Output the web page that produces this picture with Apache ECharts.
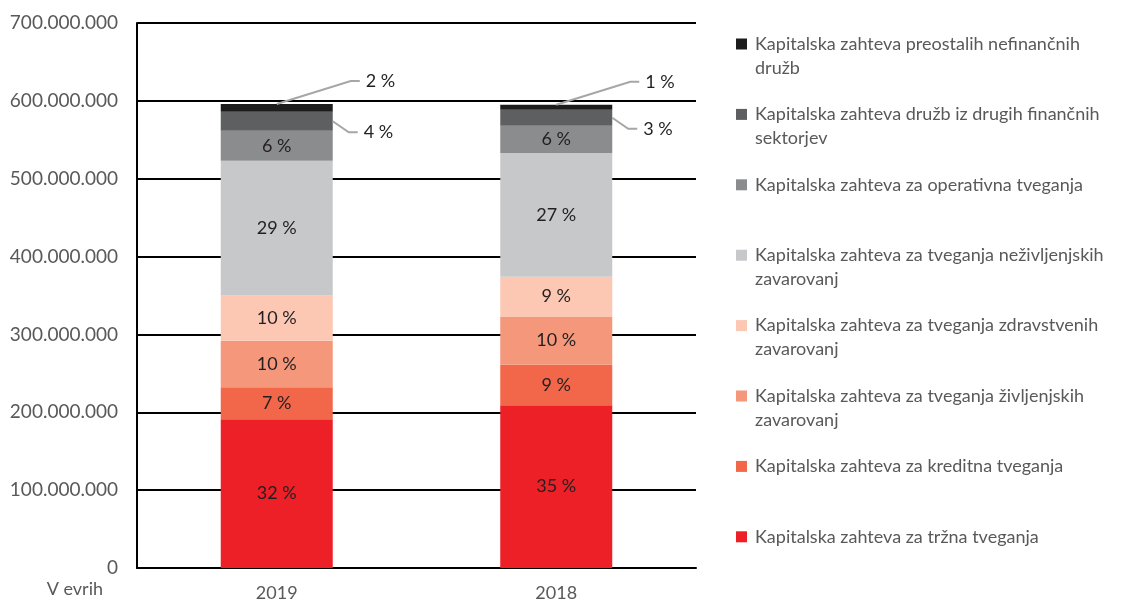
<!DOCTYPE html>
<html>
<head>
<meta charset="utf-8">
<title>Kapitalske zahteve</title>
<script src="https://cdn.jsdelivr.net/npm/echarts@6/dist/echarts.min.js"></script>
<style>
  html, body { margin: 0; padding: 0; background: #fff; }
  #chart { width: 1141px; height: 602px; }
</style>
</head>
<body>
<div id="chart"></div>
<script>
// leta (kategorije)
var years = ['2019', '2018'];

// kapitalske zahteve v mio EUR, odčitano z grafa (od spodaj navzgor)
var trzna = [191, 209];
var kreditna = [41, 52];
var zivljenjska = [60, 62];
var zdravstvena = [58, 51];
var nezivljenjska = [173, 159];
var operativna = [38.5, 35];
var drugiSektorji = [24.5, 20.5];
var preostale = [10, 6.5];

// oznake na y osi (v mio EUR)
var yTicks = [0, 100, 200, 300, 400, 500, 600, 700];

var names = [
  'Kapitalska zahteva za tržna tveganja',
  'Kapitalska zahteva za kreditna tveganja',
  'Kapitalska zahteva za tveganja življenjskih\nzavarovanj',
  'Kapitalska zahteva za tveganja zdravstvenih\nzavarovanj',
  'Kapitalska zahteva za tveganja neživljenjskih\nzavarovanj',
  'Kapitalska zahteva za operativna tveganja',
  'Kapitalska zahteva družb iz drugih finančnih\nsektorjev',
  'Kapitalska zahteva preostalih nefinančnih\ndružb'
];
var values = [trzna, kreditna, zivljenjska, zdravstvena, nezivljenjska, operativna, drugiSektorji, preostale];
var colors = ['#ed2027', '#f26649', '#f5977a', '#fcc7b3', '#c7c8ca', '#8b8c8e', '#5e5f61', '#1c1c1c'];

var totals = years.map(function (y, i) {
  return values.reduce(function (s, arr) { return s + arr[i]; }, 0);
});

var FONT = 'Lato';
var GREY = '#595959';
var BAR_W = 112;

function share(v, i) {
  return Math.round(v / totals[i] * 100) + ' %';
}

function fmtAxis(v) {
  return String(v * 1000000).replace(/\B(?=(\d{3})+(?!\d))/g, '.');
}

var series = values.map(function (arr, k) {
  return {
    name: names[k],
    type: 'bar',
    stack: 'skupaj',
    barWidth: BAR_W,
    data: arr,
    itemStyle: { color: colors[k] },
    label: {
      show: k < 6,
      position: 'inside',
      color: '#231f20',
      fontFamily: FONT,
      fontSize: 18,
      formatter: function (p) { return share(p.value, p.dataIndex); }
    }
  };
});

// opisi za najmanjša dva segmenta (z vodilno črto)
var callouts = [];
years.forEach(function (y, i) {
  var below = totals[i] - preostale[i];
  callouts.push([i, below, totals[i], 0]);
  callouts.push([i, below - drugiSektorji[i], below, 1]);
});

series.push({
  type: 'custom',
  silent: true,
  z: 5,
  data: callouts,
  encode: { x: 0, y: 2 },
  renderItem: function (params, api) {
    var cat = api.value(0), lo = api.value(1), hi = api.value(2), kind = api.value(3);
    var start, elbow;
    if (kind === 0) {
      start = api.coord([cat, hi]);
      elbow = [start[0] + 74, start[1] - 23];
    } else {
      var p = api.coord([cat, (lo + hi) / 2]);
      start = [p[0] + BAR_W / 2, p[1]];
      elbow = [start[0] + 16, start[1] + 11];
    }
    var end = [elbow[0] + 9, elbow[1]];
    return {
      type: 'group',
      children: [
        { type: 'polyline', shape: { points: [start, elbow, end] },
          style: { stroke: '#a6a6a6', lineWidth: 2, fill: null } },
        { type: 'text', x: end[0] + 6, y: end[1],
          style: { text: share(hi - lo, cat), fill: '#231f20', font: '18px ' + FONT, verticalAlign: 'middle' } }
      ]
    };
  }
});

var chart = echarts.init(document.getElementById('chart'));
chart.setOption({
  animation: false,
  backgroundColor: '#fff',
  grid: { left: 137, right: 445, top: 23, bottom: 25 },
  legend: {
    orient: 'vertical',
    left: 736,
    top: 8,
    padding: 0,
    itemGap: -1.6,
    itemWidth: 11,
    itemHeight: 11,
    icon: 'rect',
    data: names.slice().reverse(),
    formatter: function (n) { return n.indexOf('\n') >= 0 ? '\n' + n : '\n' + n + '\n'; },
    textStyle: { fontFamily: FONT, fontSize: 18, color: GREY, lineHeight: 24, padding: [0, 0, 0, 3] }
  },
  xAxis: {
    type: 'category',
    data: years,
    axisTick: { show: false },
    axisLine: { lineStyle: { color: '#000', width: 2 } },
    axisLabel: { color: GREY, fontFamily: FONT, fontSize: 18, margin: 16 }
  },
  yAxis: {
    type: 'value',
    min: yTicks[0],
    max: yTicks[yTicks.length - 1],
    interval: yTicks[1] - yTicks[0],
    name: 'V evrih',
    nameLocation: 'start',
    nameGap: 12,
    nameTextStyle: { color: GREY, fontFamily: FONT, fontSize: 18, align: 'right', padding: [0, 34, 0, 0] },
    axisLine: { show: true, lineStyle: { color: '#000', width: 2 } },
    axisTick: { show: false },
    splitLine: { lineStyle: { color: '#000', width: 2 } },
    axisLabel: { color: GREY, fontFamily: FONT, fontSize: 19, margin: 19, formatter: fmtAxis }
  },
  series: series
});
</script>
</body>
</html>
